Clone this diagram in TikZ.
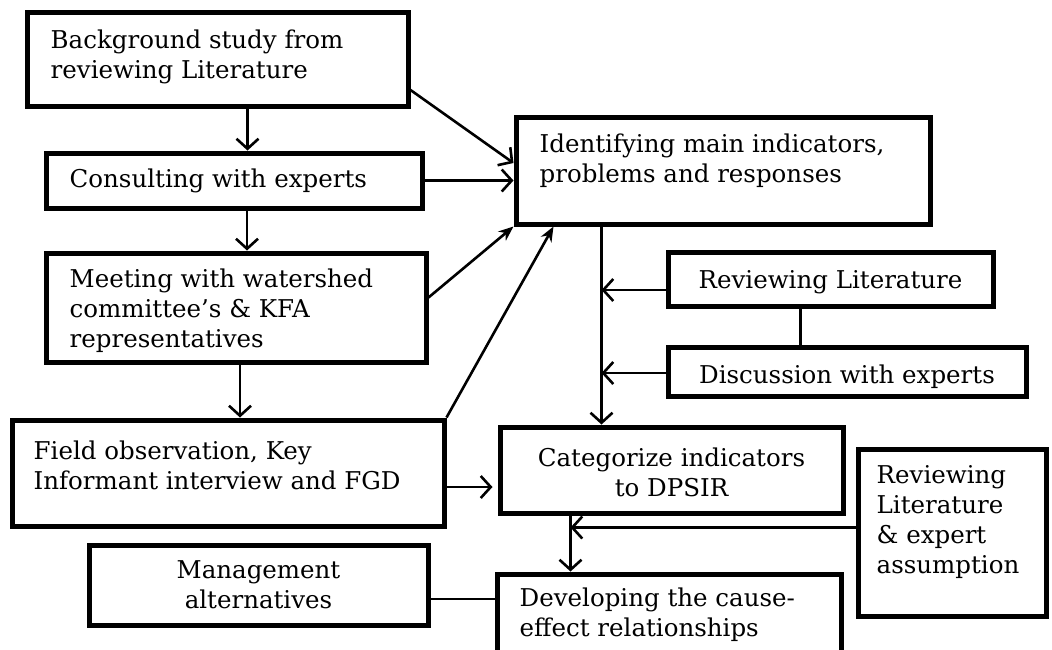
\documentclass[tikz,border=0pt]{standalone}
\usepackage{fontspec}
\setmainfont{DejaVu Serif}
\usetikzlibrary{arrows.meta}
\begin{document}
\begin{tikzpicture}[x=1pt,y=-1pt,
  box/.style={draw, line width=5pt, inner sep=0pt},
  txt/.style={inner sep=0pt, align=left, font=\fontsize{24.5}{30}\selectfont},
  ctxt/.style={txt, align=center},
  arr/.style={line width=2.6pt, -{Straight Barb[length=10pt,width=22pt,line width=2.6pt]}},
  farr/.style={line width=2.6pt, -{Stealth[length=15pt,width=12pt]}},
  link/.style={line width=2.6pt}]
\useasboundingbox (0,0) rectangle (1052,649);
\clip (0,0) rectangle (1052,649);
% left column
\node[box, minimum width=381, minimum height=94] (bg) at (217.5,59) {};
\node[box, minimum width=376, minimum height=55] (cons) at (234,180.5) {};
\node[box, minimum width=380, minimum height=109] (meet) at (236,307.5) {};
\node[box, minimum width=432, minimum height=106] (field) at (228,473) {};
\node[box, minimum width=339, minimum height=80] (mgmt) at (258.5,585) {};
% right column
\node[box, minimum width=414, minimum height=107] (ident) at (723,170.5) {};
\node[box, minimum width=325, minimum height=54] (revlit) at (830.5,279) {};
\node[box, minimum width=358, minimum height=49] (disc) at (847,371.5) {};
\node[box, minimum width=343, minimum height=86] (cat) at (671.5,470) {};
\node[box, minimum width=344, minimum height=126] (dev) at (669,637) {};
\node[box, minimum width=188, minimum height=167] (revexp) at (952,532.5) {};
% texts
\node[txt, anchor=west] (bg-t) at ([xshift=26pt,yshift=2pt]bg.west) {Background study from\\reviewing Literature};
\node[txt, anchor=west] (cons-t) at ([xshift=26pt]cons.west) {Consulting with experts};
\node[txt, anchor=west] (meet-t) at ([xshift=26pt,yshift=-3pt]meet.west) {Meeting with watershed\\committee's \& KFA\\representatives};
\node[txt, anchor=west] (field-t) at ([xshift=24pt,yshift=8pt]field.west) {Field observation, Key\\Informant interview and FGD};
\node[ctxt] (mgmt-t) at (mgmt) {Management\\alternatives};
\node[txt, anchor=west] (ident-t) at ([xshift=26pt,yshift=9.5pt]ident.west) {Identifying main indicators,\\problems and responses};
\node[ctxt] (revlit-t) at ([yshift=-3pt]revlit.center) {Reviewing Literature};
\node[ctxt] (disc-t) at ([yshift=-5pt]disc.center) {Discussion with experts};
\node[ctxt] (cat-t) at ([yshift=-2pt]cat.center) {Categorize indicators\\to DPSIR};
\node[txt, anchor=west] (dev-t) at ([xshift=25pt,yshift=-43pt]dev.north west) {Developing the cause-\\effect relationships};
\node[txt, anchor=west] (revexp-t) at ([xshift=21pt,yshift=10pt]revexp.west) {Reviewing\\Literature\\\& expert\\assumption};
% connectors
\draw[arr] ([xshift=30pt]bg.south) -- ([xshift=30pt]bg.south |- cons.north);
\draw[arr] ([xshift=13pt]cons.south) -- ([xshift=13pt]cons.south |- meet.north);
\draw[arr] ([xshift=4pt]meet.south) -- ([xshift=4pt]meet.south |- field.north);
\draw[arr] ([yshift=-31pt]bg.east) -- ([yshift=7.5pt]ident.west);
\draw[arr] (cons.east) -- (cons.east -| ident.west);
\draw[farr] ([yshift=10pt]meet.east) -- (ident.south west);
\draw[farr] (field.north east) -- ([xshift=40pt]ident.south west);
\coordinate (t1) at ([xshift=88pt]ident.south west);
\draw[arr] (t1) -- (t1 |- cat.north);
\draw[arr] ([yshift=-11pt]revlit.west) -- ([yshift=-11pt]revlit.west -| t1);
\draw[arr] ([yshift=-1.5pt]disc.west) -- ([yshift=-1.5pt]disc.west -| t1);
\draw[link] ([xshift=-30pt]revlit.south) -- ([xshift=-30pt]revlit.south |- disc.north);
\draw[arr, shorten >=5pt] ([yshift=-14pt]field.east) -- ([yshift=-14pt]field.east -| cat.west);
\coordinate (t2) at ([xshift=73pt]cat.south west);
\draw[arr] (t2) -- (t2 |- dev.north);
\draw[arr] ([yshift=5pt]revexp.west) -- ([yshift=5pt]revexp.west -| t2);
\draw[link] ([yshift=-14pt]mgmt.east) -- ([yshift=-14pt]mgmt.east -| dev.west);
\end{tikzpicture}
\end{document}
